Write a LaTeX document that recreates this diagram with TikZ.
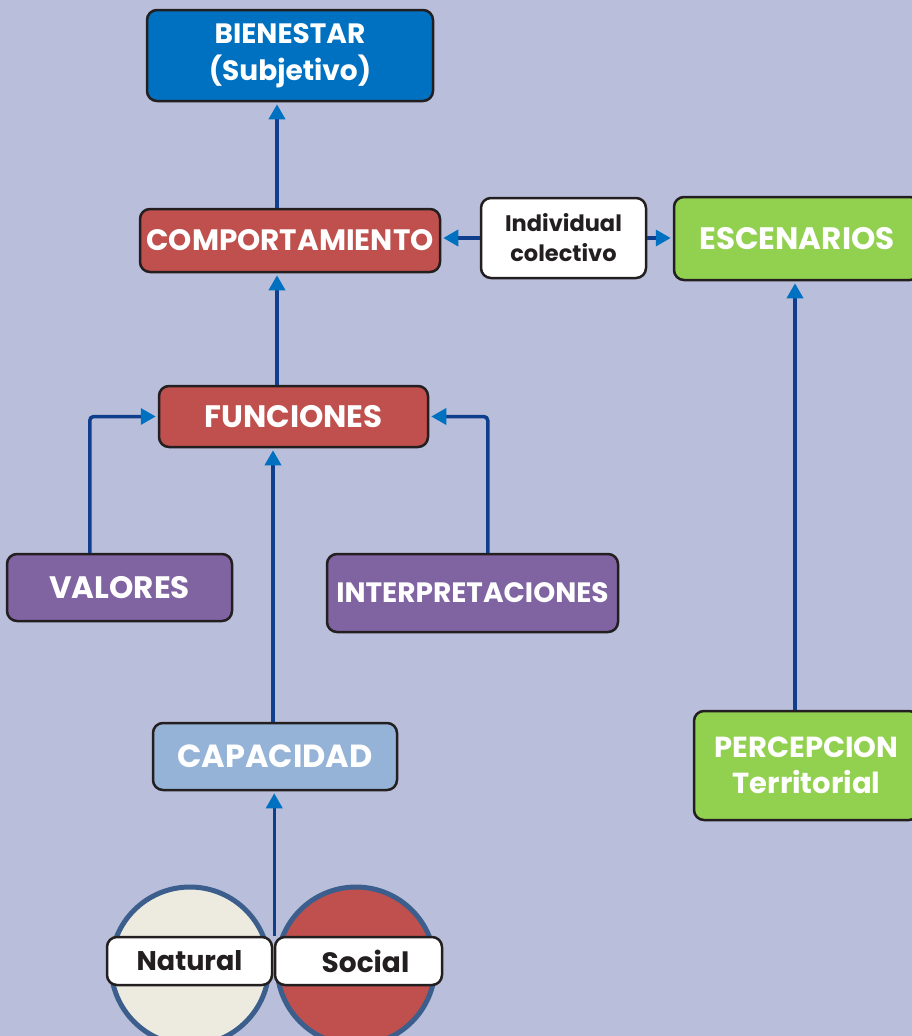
\documentclass[tikz,border=0pt]{standalone}
\usepackage{fontspec}
\setmainfont{Poppins}
\usetikzlibrary{arrows.meta,calc}
\definecolor{bg}{RGB}{185,191,218}
\definecolor{bienblue}{RGB}{0,112,192}
\definecolor{redbox}{RGB}{192,80,77}
\definecolor{greenbox}{RGB}{146,208,80}
\definecolor{purplebox}{RGB}{128,100,162}
\definecolor{lightbluebox}{RGB}{149,179,215}
\definecolor{edgecol}{RGB}{35,31,32}
\definecolor{navy}{RGB}{14,62,140}
\definecolor{tipblue}{RGB}{0,112,192}
\definecolor{ringblue}{RGB}{59,94,140}
\definecolor{cream}{RGB}{237,235,224}
\newcommand{\fs}[2]{\bfseries\fontsize{#1}{#2}\selectfont}
\begin{document}
\begin{tikzpicture}[x=1pt,y=-1pt,
  box/.style={draw=edgecol, line width=2.5pt, rounded corners=10pt, text=white,
    font=\fs{31}{36}, align=center, inner sep=0pt},
  wbox/.style={box, fill=white, text=edgecol},
  arr/.style={draw=navy, line width=3.5pt, rounded corners=4pt, shorten >=2pt,
    -{Triangle[color=tipblue, length=15pt, width=16pt]}},
  ring/.style={draw=ringblue, line width=5pt, circle, inner sep=0pt}
]
\path[use as bounding box, fill=bg] (0,0) rectangle (912,1036);
\clip (0,0) rectangle (912,1036);

% circles
\node[ring, fill=cream, minimum size=158pt] (cn) at (190,966) {};
\node[ring, fill=redbox, minimum size=158pt] (cs) at (356,966) {};

% boxes
\node[box, fill=bienblue, minimum width=286pt, minimum height=91pt, font=\fs{28}{37}] (bien) at (290,55.5) {BIENESTAR\\(Subjetivo)};
\node[box, fill=redbox, minimum width=300pt, minimum height=63pt, font=\fs{29.5}{34}] (comp) at (290,240.5) {COMPORTAMIENTO};
\node[wbox, minimum width=165pt, minimum height=80pt, font=\fs{22.5}{30}] (ind) at (563.5,238) {Individual\\colectivo};
\node[box, fill=greenbox, minimum width=246pt, minimum height=83pt] (esc) at (797,238.5) {ESCENARIOS};
\node[box, fill=redbox, minimum width=269pt, minimum height=61pt] (fun) at (293.5,416.5) {FUNCIONES};
\node[box, fill=purplebox, minimum width=225pt, minimum height=67pt] (val) at (119.5,587.5) {VALORES};
\node[box, fill=purplebox, minimum width=291pt, minimum height=78pt, font=\fs{28}{33}] (int) at (472.5,593) {INTERPRETACIONES};
\node[box, fill=lightbluebox, minimum width=244pt, minimum height=67pt, font=\fs{32}{37}] (cap) at (275,756.5) {CAPACIDAD};
\node[box, fill=greenbox, minimum width=225pt, minimum height=109pt, font=\fs{29}{36}] (per) at (806.5,765.5) {PERCEPCION\\Territorial};
\node[wbox, minimum width=165pt, minimum height=48pt, font=\fs{27}{32}] (nat) at (189.5,961) {Natural};
\node[wbox, minimum width=167pt, minimum height=48pt, font=\fs{28}{32}] (soc) at (358.5,961) {\hspace*{14pt}Social};

% named points
\path (val.north west) ++(84,0) coordinate (vtop);
\path (int.north west) ++(162,0) coordinate (itop);
\path (nat.north east) ++(1,0) coordinate (ctop);

% connectors
\draw[arr] (comp.north -| 277,0) -- (bien.south -| 277,0);
\draw[arr] (fun.north -| 277,0) -- (comp.south -| 277,0);
\draw[arr] (cap.north -| 273,0) -- (fun.south -| 273,0);
\draw[arr] (ctop) -- (cap.south -| ctop);
\draw[arr] (vtop) |- (fun.west);
\draw[arr] (itop) |- (fun.east);
\draw[arr] (ind.west) -- (ind.west -| comp.east);
\draw[arr] (ind.east) -- (ind.east -| esc.west);
\draw[arr] (per.north -| 795,0) -- (esc.south -| 795,0);
\end{tikzpicture}
\end{document}
